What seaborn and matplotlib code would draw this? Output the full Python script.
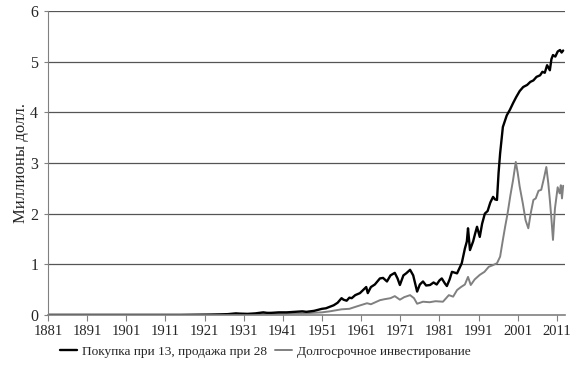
import numpy as np
import pandas as pd
import matplotlib
matplotlib.use("Agg")
import matplotlib.pyplot as plt
import seaborn as sns

# ── Data (millions of dollars) ────────────────────────────────────────────────
years_buy = [1881, 1900, 1915, 1922, 1925, 1927, 1929, 1930, 1932, 1934, 1936, 1937,
             1938, 1940, 1942, 1944, 1946, 1947, 1949, 1951, 1952, 1953, 1954, 1955,
             1956, 1956.5, 1957.3, 1958, 1958.6, 1959.5, 1960.7, 1961.5, 1962.3, 1962.7,
             1963.5, 1964.5, 1965.8, 1966.6, 1967.6, 1968.5, 1969.6, 1970.3, 1970.9,
             1971.8, 1972.5, 1973.5, 1974.3, 1975.3, 1976.0, 1976.8, 1977.6, 1978.6,
             1979.5, 1980.3, 1981.0, 1981.6, 1982.4, 1982.9, 1983.6, 1984.2, 1985.5,
             1986.1, 1986.7, 1987.5, 1988.0, 1988.3, 1988.8, 1989.6, 1990.1, 1990.6,
             1991.3, 1991.9, 1992.6, 1993.3, 1994.0, 1994.7, 1995.2, 1995.7, 1996.1,
             1996.5, 1997.2, 1998.2, 1999.0, 1999.8, 2000.6, 2001.5, 2002.4, 2003.4,
             2004.2, 2005.0, 2005.8, 2006.7, 2007.3, 2007.9, 2008.5, 2009.2, 2009.6,
             2010.0, 2010.6, 2011.2, 2011.8, 2012.2, 2012.6]
values_buy = [0.0, 0.0, 0.0, 0.005, 0.01, 0.015, 0.03, 0.025, 0.02, 0.03, 0.05, 0.04,
              0.04, 0.05, 0.05, 0.06, 0.07, 0.06, 0.08, 0.12, 0.13, 0.16, 0.19, 0.24,
              0.33, 0.3, 0.28, 0.34, 0.33, 0.39, 0.43, 0.49, 0.55, 0.43, 0.55, 0.6,
              0.72, 0.73, 0.66, 0.78, 0.83, 0.72, 0.59, 0.78, 0.82, 0.89, 0.78, 0.46,
              0.6, 0.66, 0.58, 0.59, 0.64, 0.6, 0.68, 0.72, 0.62, 0.57, 0.7, 0.85,
              0.82, 0.92, 1.02, 1.31, 1.45, 1.71, 1.28, 1.45, 1.6, 1.74, 1.54, 1.8,
              2.0, 2.05, 2.22, 2.33, 2.28, 2.27, 2.8, 3.19, 3.71, 3.94, 4.05, 4.18,
              4.3, 4.42, 4.5, 4.54, 4.6, 4.63, 4.7, 4.73, 4.8, 4.78, 4.93, 4.83, 5.05,
              5.13, 5.1, 5.2, 5.23, 5.18, 5.22]

years_hold = [1881, 1900, 1915, 1925, 1928, 1929, 1932, 1936, 1941, 1946, 1951, 1953,
              1956, 1958, 1960, 1962.5, 1963.5, 1965.8, 1967, 1968.5, 1969.6, 1970.9,
              1972, 1973.5, 1974.5, 1975.3, 1976.8, 1978.5, 1980, 1981.9, 1983.4,
              1984.5, 1985.5, 1986.5, 1987.5, 1988.3, 1989.0, 1990.0, 1991.3, 1992.5,
              1993.6, 1994.6, 1995.7, 1996.5, 1997.2, 1997.8, 1998.4, 1999.1, 1999.8,
              2000.5, 2001.0, 2001.5, 2002.3, 2003.0, 2003.7, 2004.3, 2005.0, 2005.6,
              2006.3, 2007.0, 2007.7, 2008.3, 2008.8, 2009.2, 2009.6, 2010.0, 2010.5,
              2011.2, 2011.7, 2012.0, 2012.3, 2012.6]
values_hold = [0.0, 0.0, 0.0, 0.005, 0.008, 0.012, 0.01, 0.02, 0.025, 0.03, 0.05, 0.07,
               0.11, 0.12, 0.17, 0.23, 0.21, 0.29, 0.31, 0.33, 0.37, 0.3, 0.35, 0.39,
               0.33, 0.22, 0.26, 0.25, 0.27, 0.26, 0.39, 0.36, 0.49, 0.55, 0.6, 0.75,
               0.59, 0.7, 0.79, 0.85, 0.95, 0.98, 1.02, 1.15, 1.48, 1.75, 2.0, 2.35,
               2.66, 3.02, 2.8, 2.53, 2.2, 1.87, 1.71, 2.0, 2.27, 2.3, 2.45, 2.47, 2.7,
               2.92, 2.6, 2.27, 1.9, 1.48, 2.1, 2.52, 2.4, 2.56, 2.3, 2.55]

label_buy = "Покупка при 13, продажа при 28"
label_hold = "Долгосрочное инвестирование"
x_ticks = list(range(1881, 2012, 10))
y_ticks = [0, 1, 2, 3, 4, 5, 6]

df_buy = pd.DataFrame({"year": years_buy, "value": values_buy})
df_hold = pd.DataFrame({"year": years_hold, "value": values_hold})

sns.set_style("white")
plt.rcParams["font.family"] = ["Liberation Serif", "DejaVu Serif"]

fig = plt.figure(figsize=(5.84, 3.67), dpi=100)
ax = fig.add_axes([0.082, 0.142, 0.885, 0.828])

for y in y_ticks[1:]:
    ax.axhline(y, color="#555555", linewidth=0.9, zorder=0)

sns.lineplot(data=df_hold, x="year", y="value", ax=ax, color="#808080",
             linewidth=1.4, label=label_hold)
sns.lineplot(data=df_buy, x="year", y="value", ax=ax, color="black",
             linewidth=1.7, label=label_buy)

ax.set_xlim(1881, 2013)
ax.set_ylim(0, 6)
ax.set_xticks(x_ticks)
ax.set_yticks(y_ticks)
ax.tick_params(axis="x", direction="out", length=4, color="#808080",
               labelsize=10.5, pad=3, bottom=True)
ax.tick_params(axis="y", direction="out", length=3, color="#808080",
               labelsize=11.5, pad=4, left=True)
ax.set_xlabel("")
ax.set_ylabel("Миллионы долл.", fontsize=12, labelpad=1)

for side in ["top", "right"]:
    ax.spines[side].set_visible(False)
ax.spines["left"].set_color("#808080")
ax.spines["bottom"].set_color("#808080")
ax.spines["bottom"].set_linewidth(1.2)

handles, labels = ax.get_legend_handles_labels()
ax.legend(handles[::-1], labels[::-1], loc="center", bbox_to_anchor=(0.42, -0.122),
          ncol=2, frameon=False, fontsize=9.6, handlelength=1.3,
          handletextpad=0.35, columnspacing=0.6)

fig.savefig("out.png", dpi=100)
